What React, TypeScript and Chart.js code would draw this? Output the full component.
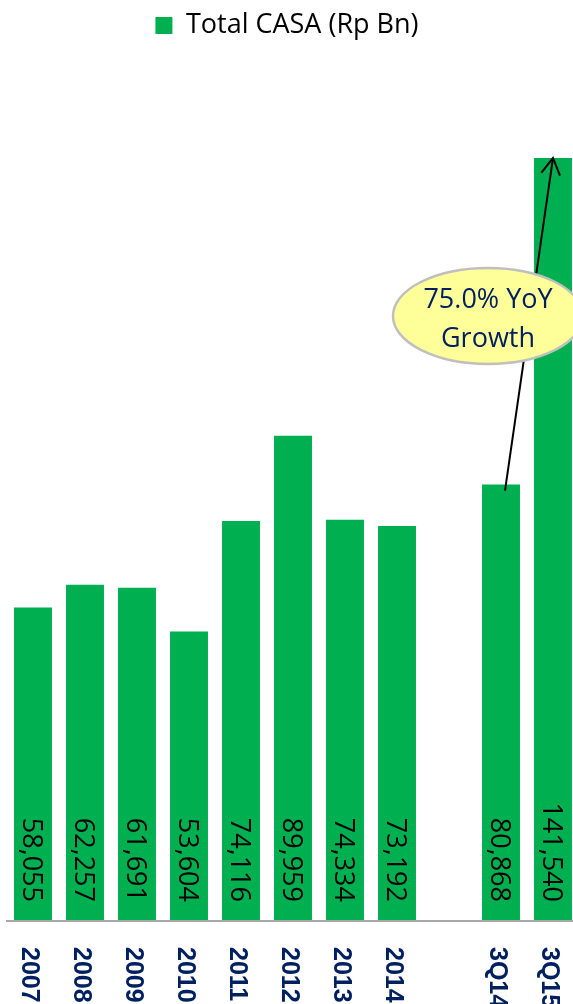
import React, { useEffect, useRef } from "react";
import { Chart, registerables } from "chart.js";

Chart.register(...registerables);

const categories = ["2007", "2008", "2009", "2010", "2011", "2012", "2013", "2014", "", "3Q14", "3Q15"];
const casa: (number | null)[] = [58055, 62257, 61691, 53604, 74116, 89959, 74334, 73192, null, 80868, 141540];
const seriesName = "Total CASA (Rp Bn)";
const growthLines = ["75.0% YoY", "Growth"];
const yMax = 161776;

const overlay = {
  id: "overlay",
  afterLayout(chart: any) {
    if (chart.legend) {
      chart.legend.left -= 6;
      chart.legend.right -= 6;
    }
  },
  afterDatasetsDraw(chart: any) {
    const ctx = chart.ctx as CanvasRenderingContext2D;
    const area = chart.chartArea;
    const xs = chart.scales.x;
    const ys = chart.scales.y;
    ctx.save();
    // baseline
    ctx.strokeStyle = "#a6a6a6";
    ctx.lineWidth = 2;
    ctx.beginPath();
    ctx.moveTo(area.left - 1, area.bottom + 1);
    ctx.lineTo(area.right, area.bottom + 1);
    ctx.stroke();

    categories.forEach((lab, i) => {
      const x = xs.getPixelForValue(i);
      const v = casa[i];
      if (v != null) {
        ctx.save();
        ctx.translate(x, area.bottom - 18);
        ctx.rotate(Math.PI / 2);
        ctx.font = '27px "Open Sans"';
        ctx.fillStyle = "#000";
        ctx.textAlign = "right";
        ctx.textBaseline = "alphabetic";
        ctx.fillText(v.toLocaleString("en-US"), 0, 9.6);
        ctx.restore();
      }
      if (lab) {
        ctx.save();
        ctx.translate(x - 2, area.bottom + 27);
        ctx.rotate(Math.PI / 2);
        ctx.font = 'bold 25px "Liberation Sans"';
        ctx.fillStyle = "#002060";
        ctx.textAlign = "left";
        ctx.textBaseline = "alphabetic";
        ctx.fillText(lab, 0, 9);
        ctx.restore();
      }
    });

    // growth arrow
    const x9 = xs.getPixelForValue(9);
    const y9 = ys.getPixelForValue(casa[9] as number);
    const x10 = xs.getPixelForValue(10);
    const y10 = ys.getPixelForValue(casa[10] as number);
    const sx = x9 + 4, sy = y9 + 6;
    ctx.strokeStyle = "#000";
    ctx.lineWidth = 2;
    ctx.beginPath();
    ctx.moveTo(sx, sy);
    ctx.lineTo(x10, y10);
    ctx.stroke();
    const back = Math.atan2(sy - y10, sx - x10);
    ctx.beginPath();
    ctx.moveTo(x10 + 19 * Math.cos(back - 0.52), y10 + 19 * Math.sin(back - 0.52));
    ctx.lineTo(x10, y10);
    ctx.lineTo(x10 + 19 * Math.cos(back + 0.52), y10 + 19 * Math.sin(back + 0.52));
    ctx.stroke();

    // callout ellipse
    const cx = x9 - 13, cy = y10 + 158;
    ctx.beginPath();
    ctx.ellipse(cx, cy, 95, 48, 0, 0, Math.PI * 2);
    ctx.fillStyle = "#ffff99";
    ctx.fill();
    ctx.strokeStyle = "#bfbfbf";
    ctx.lineWidth = 2.5;
    ctx.stroke();
    ctx.fillStyle = "#002060";
    ctx.font = '27px "Open Sans"';
    ctx.textAlign = "center";
    ctx.textBaseline = "alphabetic";
    ctx.fillText(growthLines[0], cx, cy - 8);
    ctx.fillText(growthLines[1], cx, cy + 31);
    ctx.restore();
  },
};

export default function App() {
  const ref = useRef<HTMLCanvasElement>(null);
  useEffect(() => {
    if (!ref.current) return;
    const chart = new Chart(ref.current, {
      type: "bar",
      data: {
        labels: categories,
        datasets: [
          {
            label: seriesName,
            data: casa,
            backgroundColor: "#00b050",
            borderWidth: 0,
            barPercentage: 0.73,
            categoryPercentage: 1,
          },
        ],
      },
      options: {
        responsive: false,
        animation: false,
        devicePixelRatio: 1,
        layout: { padding: { left: 7, right: 0, top: 0, bottom: 84 } },
        plugins: {
          legend: {
            display: true,
            position: "top",
            labels: {
              boxWidth: 17,
              boxHeight: 17,
              padding: 12,
              color: "#000",
              font: { family: '"Open Sans"', size: 27 },
            },
          },
          tooltip: { enabled: false },
        },
        scales: {
          x: { display: false, offset: true },
          y: { display: false, min: 0, max: yMax },
        },
      },
      plugins: [overlay],
    });
    return () => chart.destroy();
  }, []);
  return (
    <div style={{ position: "fixed", left: 0, top: 0, width: 573, height: 1004, overflow: "hidden", background: "#fff" }}>
      <canvas ref={ref} width={579} height={1004} style={{ display: "block" }} />
    </div>
  );
}
